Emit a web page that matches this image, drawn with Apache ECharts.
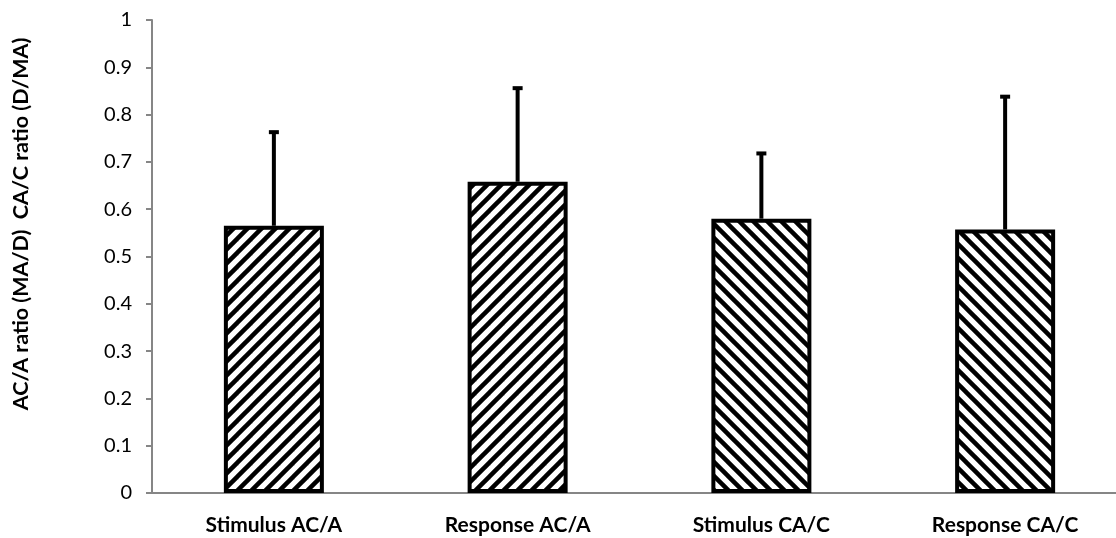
<!DOCTYPE html>
<html>
<head>
<meta charset="utf-8">
<script src="https://cdn.jsdelivr.net/npm/echarts@6/dist/echarts.min.js"></script>
<style>html,body{margin:0;padding:0;background:#fff}#chart{width:1116px;height:538px}</style>
</head>
<body>
<div id="chart"></div>
<script>
var categories = ['Stimulus AC/A', 'Response AC/A', 'Stimulus CA/C', 'Response CA/C'];
var means = [0.565, 0.658, 0.580, 0.557];
var sds = [0.200, 0.200, 0.140, 0.283];
var hatchDirection = ['/', '/', '\\', '\\'];
var yTicks = [0, 0.1, 0.2, 0.3, 0.4, 0.5, 0.6, 0.7, 0.8, 0.9, 1];
var yAxisTitle = 'AC/A ratio (MA/D)  CA/C ratio (D/MA)';

function hatch(dir) {
  var s = 14;
  var c = document.createElement('canvas');
  c.width = s; c.height = s;
  var g = c.getContext('2d');
  g.fillStyle = '#fff'; g.fillRect(0, 0, s, s);
  g.strokeStyle = '#000'; g.lineWidth = 4.5;
  var segs = dir === '/' ?
    [[0, s, s, 0], [-s/2, s/2, s/2, -s/2], [s/2, s*1.5, s*1.5, s/2]] :
    [[0, 0, s, s], [-s/2, s/2, s/2, s*1.5], [s/2, -s/2, s*1.5, s/2]];
  segs.forEach(function (p) { g.beginPath(); g.moveTo(p[0], p[1]); g.lineTo(p[2], p[3]); g.stroke(); });
  return c;
}

var chart = echarts.init(document.getElementById('chart'));
var font = 'Lato';
chart.setOption({
  animation: false,
  grid: { left: 152, width: 975, top: 20, bottom: 45, outerBoundsMode: 'none', containLabel: false },
  xAxis: {
    type: 'category', data: categories,
    axisLine: { lineStyle: { color: '#868686', width: 2 } },
    axisTick: { length: 6, lineStyle: { color: '#868686', width: 2 } },
    axisLabel: { color: '#000', fontFamily: font, fontWeight: 'bold', fontSize: 21, margin: 22 }
  },
  yAxis: {
    type: 'value', min: 0, max: 1, interval: 0.1,
    axisLine: { show: true, lineStyle: { color: '#868686', width: 2 } },
    axisTick: { show: true, length: 6, lineStyle: { color: '#868686', width: 2 } },
    splitLine: { show: false },
    axisLabel: { color: '#000', fontFamily: font, fontSize: 20, margin: 20,
      formatter: function (v) { var i = yTicks.findIndex(function (t) { return Math.abs(t - v) < 1e-9; }); return i >= 0 ? String(yTicks[i]) : ''; } }
  },
  graphic: [{
    type: 'text', x: 21, y: 224, rotation: Math.PI / 2,
    style: { text: yAxisTitle, fill: '#000', font: 'bold 21.5px Lato', textAlign: 'center', textVerticalAlign: 'middle' }
  }],
  series: [{
    type: 'bar', barWidth: 100,
    data: means.map(function (m, i) {
      return { value: m, itemStyle: { color: { image: hatch(hatchDirection[i]), repeat: 'repeat' }, borderColor: '#000', borderWidth: 4 } };
    }),
    z: 2
  }, {
    type: 'custom', z: 1,
    data: means.map(function (m, i) { return [i, m, m + sds[i]]; }),
    renderItem: function (params, api) {
      var lo = api.coord([api.value(0), api.value(1)]);
      var hi = api.coord([api.value(0), api.value(2)]);
      return { type: 'group', children: [
        { type: 'line', shape: { x1: lo[0], y1: lo[1], x2: hi[0], y2: hi[1] }, style: { stroke: '#000', lineWidth: 4 } },
        { type: 'line', shape: { x1: hi[0] - 5, y1: hi[1] + 1, x2: hi[0] + 5, y2: hi[1] + 1 }, style: { stroke: '#000', lineWidth: 4 } }
      ] };
    }
  }]
});
</script>
</body>
</html>
